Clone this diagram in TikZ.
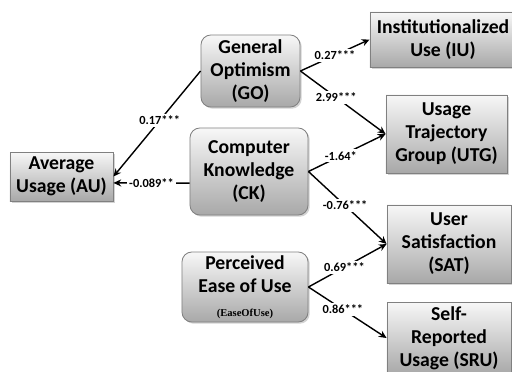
\documentclass[tikz,border=0pt]{standalone}
\usepackage{fontspec}
\setmainfont{Carlito}
\newfontfamily\smallserif{Liberation Serif}
\usetikzlibrary{arrows.meta,shadows}
\tikzset{
 box/.style={draw=black!50,line width=0.6pt,top color=black!3,bottom color=black!34,drop shadow={shadow xshift=1.2pt,shadow yshift=-1.2pt,opacity=0.35},align=center,inner sep=0pt,font=\bfseries\fontsize{14}{16.3}\selectfont},
 rbox/.style={box,rounded corners=7pt},
 coef/.style={fill=white,inner sep=1.5pt,font=\bfseries\fontsize{8.8}{10}\selectfont},
 link/.style={line width=1pt,-{Stealth[length=5.5pt,width=5pt]}}
}
\begin{document}
\begin{tikzpicture}[x=0.025cm,y=-0.025cm]
 \clip (0,0) rectangle (512,371);
 \node[box,minimum width=2.575cm,minimum height=1.225cm] (AU) at (61.5,176.5) {Average\\Usage (AU)};
 \node[rbox,minimum width=2.475cm,minimum height=1.8cm] (GO) at (250.5,71) {General\\Optimism\\(GO)};
 \node[rbox,minimum width=2.95cm,minimum height=2.175cm] (CK) at (249,171.5) {Computer\\Knowledge\\(CK)};
 \node[rbox,minimum width=3.15cm,minimum height=1.75cm] (EoU) at (245,287) {Perceived\\Ease of Use\\[1pt]{\smallserif\bfseries\fontsize{7.5}{9}\selectfont(EaseOfUse)}};
 \node[box,minimum width=3.65cm,minimum height=1.375cm] (IU) at (443,39.5) {Institutionalized\\Use (IU)};
 \node[box,minimum width=3.025cm,minimum height=1.95cm] (UTG) at (446.5,134) {Usage\\Trajectory\\Group (UTG)};
 \node[box,minimum width=3.1cm,minimum height=1.95cm] (SAT) at (449,244) {User\\Satisfaction\\(SAT)};
 \node[box,minimum width=3.1cm,minimum height=1.8cm] (SRU) at (449,338) {Self-\\Reported\\Usage (SRU)};
 \draw[link] (GO.west) -- node[coef,pos=0.47] {0.17***} (AU.east);
 \draw[link] ([yshift=-0.29cm]CK.west) -- node[coef] {-0.089**} ([yshift=-0.16cm]AU.east);
 \draw[link] (GO.east) -- node[coef,pos=0.5] {0.27***} (IU.west);
 \draw[link] (GO.east) -- node[coef,pos=0.42] {2.99***} (UTG.west);
 \draw[link] (CK.east) -- node[coef,pos=0.42] {-1.64*} (UTG.west);
 \draw[link] (CK.east) -- node[coef,pos=0.47] {-0.76***} (SAT.west);
 \draw[link] (EoU.east) -- node[coef,pos=0.46] {0.69***} (SAT.west);
 \draw[link] (EoU.east) -- node[coef,pos=0.44] {0.86***} (SRU.west);
\end{tikzpicture}
\end{document}
